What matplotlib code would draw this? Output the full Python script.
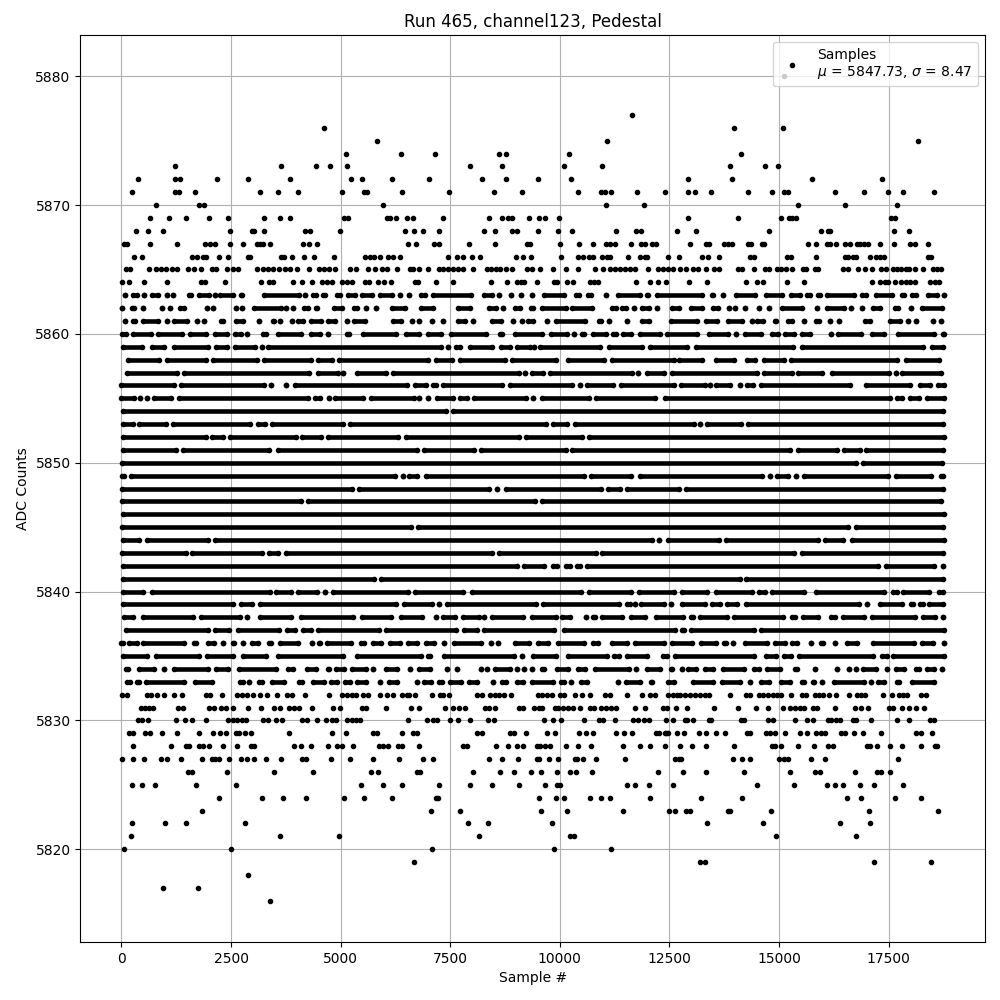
import numpy as np
import matplotlib
matplotlib.use("Agg")
import matplotlib.pyplot as plt


TITLE = "Run 465, channel123, Pedestal"
LEGEND_LABEL = "Samples\n$\\mu$ = 5847.73, $\\sigma$ = 8.47"

# Rows where single samples can be read: ADC level -> sample numbers
samples_5880 = [15112]
samples_5877 = [11649]
samples_5876 = [4630, 13972, 15089]
samples_5875 = [5838, 11079, 18167]
samples_5874 = [5131, 6382, 7158, 8617, 8776, 10213, 14131]
samples_5873 = [1233, 3649, 4447, 4767, 5154, 7956, 8685, 10099, 10965, 13881, 14679, 14975]
samples_5872 = [389, 1233, 1347, 2190, 2897, 3855, 5245, 5496, 6162, 7021, 8214, 8776, 9506, 10258, 12923, 13934, 15750, 17346]
samples_5871 = [252, 1233, 1324, 1689, 3171, 3581, 4037, 5040, 5542, 5595, 6405, 7477, 8503, 9141, 10418, 10950, 11026, 11178, 11763, 12402, 12923, 13083, 13447, 14291, 14838, 15112, 15203, 16275, 16936, 17483, 17825, 18532]
samples_5870 = [799, 1780, 1894, 5975, 11064, 11923, 15431, 16503, 17688]
samples_5869 = [663, 1096, 1483, 2008, 2441, 3262, 3627, 3855, 5086, 5177, 6066, 6124, 6261, 6504, 6656, 7340, 8389, 8685, 8822, 8898, 9301, 9529, 9666, 9985, 12923, 14063, 15043, 15226, 15302, 15378, 17559, 17635]
samples_5868 = [328, 617, 959, 2487, 2988, 3034, 3262, 4197, 4311, 4995, 6474, 6679, 6884, 7249, 8275, 8526, 8913, 9027, 9506, 9962, 10281, 11284, 11748, 11862, 12675, 13113, 14770, 15955, 16115, 16153, 17620, 17962]
samples_5867 = [62, 123, 663, 1278, 1917, 2031, 2145, 2487, 2783, 3087, 3163, 3239, 3391, 4151, 4288, 4470, 6527, 6724, 7127, 7249, 7933, 8518, 9240, 9316, 10008, 10441, 10760, 11064, 11140, 11262, 11626, 11862, 11938, 12113, 12204, 12969, 13341, 13402, 13744, 13835, 13926, 14291, 14367, 14610, 14656, 15659, 15841, 16100, 16161, 16297, 16503, 16609, 16776, 16837, 16936, 17027, 17293, 17620, 17992, 18099, 18395]
samples_5866 = [298, 480, 1620, 1734, 1871, 1932, 2236, 2441, 2897, 2943, 3649, 3718, 3885, 4174, 4402, 4858, 5565, 5671, 5770, 5907, 6089, 6203, 6352, 7454, 7659, 7796, 7986, 8176, 8997, 9164, 9346, 10030, 10418, 10532, 10669, 10760, 10973, 11079, 11155, 11558, 11839, 11938, 11991, 12470, 12718, 13242, 13379, 13630, 14329, 14420, 15180, 15279, 15841, 16495, 16571, 16685, 16761, 17065, 17217, 17293, 17392, 18395, 18471]
samples_5865 = [108, 199, 640, 792, 898, 1020, 1149, 1278, 1529, 1666, 1825, 2061, 2152, 2418, 2555, 2669, 3087, 3239, 3353, 3467, 3604, 3733, 3847, 3999, 4288, 4516, 4622, 4744, 4873, 5215, 5352, 5633, 5785, 5937, 6051, 6279, 6580, 6656, 6793, 6998, 7249, 7340, 7454, 7568, 7682, 7796, 8009, 8328, 8419, 8541, 8632, 8769, 8898, 9240, 9354, 9544, 9848, 10137, 10418, 10798, 10988, 11140, 11254, 11368, 11482, 11596, 11710, 12014, 12242, 12356, 12470, 12584, 12748, 12870, 13037, 13151, 13326, 13516, 13630, 14063, 14162, 14428, 14671, 14770, 14952, 15051, 15150, 15302, 15545, 15606, 15811, 15887, 16457, 16571, 16791, 16959, 17126, 17331, 17445, 17597, 17688, 17787, 17901, 17962, 18106, 18273, 18509, 18600, 18699]
samples_5864 = [24, 184, 526, 1050, 1825, 1917, 2373, 3193, 3368, 3467, 3923, 4113, 4341, 4569, 4683, 4797, 5025, 5139, 5268, 5557, 5656, 5861, 5998, 6150, 6694, 6770, 7165, 7568, 8419, 8799, 9012, 9103, 9179, 9483, 9863, 9939, 10167, 10304, 10684, 10775, 10874, 11740, 12060, 12242, 12424, 12946, 13356, 14253, 14496, 14633, 15180, 15568, 17118, 17293, 17407, 17483, 17635, 17787, 17886, 17992, 18106, 18448, 18547, 18646]

samples_5832 = [9, 138, 579, 670, 822, 974, 1210, 1377, 1932, 2023, 2297, 2631, 2745, 2859, 3011, 3163, 3315, 3558, 3786, 3885, 4197, 4744, 5025, 5139, 5253, 5344, 5519, 5633, 5907, 6066, 6203, 6390, 6504, 6565, 6694, 7089, 7264, 7340, 7477, 8100, 8214, 8404, 8518, 8617, 8723, 8890, 9506, 9582, 9711, 9810, 10000, 10099, 10357, 10517, 10692, 11026, 11140, 11535, 11877, 12067, 12166, 12470, 12584, 12683, 12733, 12847, 12961, 13075, 13189, 13303, 13402, 13881, 14238, 14344, 14534, 14633, 14747, 14861, 14952, 15051, 15271, 15530, 15621, 15811, 15910, 16001, 16138, 16297, 16594, 16776, 16875, 16966, 17369, 17574, 17734, 17825, 17916, 18228, 18357]
samples_5831 = [442, 541, 640, 731, 1301, 1415, 2008, 2114, 2266, 2388, 2555, 2897, 3193, 3490, 3627, 3832, 3938, 4060, 4356, 4835, 4995, 5481, 5580, 6043, 6610, 6793, 7386, 7568, 7705, 7826, 8298, 8389, 8510, 9073, 9164, 9407, 9529, 9590, 9886, 9962, 10076, 10190, 10304, 10456, 10699, 10775, 10950, 11064, 11178, 11277, 11718, 11946, 12356, 12447, 12645, 12900, 13516, 14063, 14473, 14747, 15089, 15256, 15355, 15469, 15560, 15773, 15864, 16275, 16731, 16867, 17027, 17506, 17597, 17802, 17954, 18114, 18304]
samples_5830 = [389, 465, 617, 1255, 1461, 1620, 1939, 2441, 2555, 2646, 2745, 2836, 3239, 3353, 3528, 3657, 4113, 4227, 4470, 4675, 4797, 4896, 5139, 5253, 5344, 5443, 6542, 6975, 7112, 7188, 7500, 7682, 7956, 8366, 8503, 9643, 9848, 10038, 10555, 10897, 10988, 11262, 11672, 11786, 11923, 12037, 12424, 12584, 12847, 12908, 13037, 13402, 13455, 14124, 14192, 14755, 14861, 15355, 15636, 15773, 16115, 16191, 16305, 16381, 16685, 16746, 17095, 17688, 17962, 18433, 18539]
samples_5829 = [184, 260, 541, 655, 936, 1278, 1780, 2099, 2259, 2395, 2616, 2692, 2821, 2950, 3832, 4812, 5131, 5747, 5838, 6390, 6656, 6747, 8115, 8222, 8860, 8951, 9225, 9711, 9894, 10441, 10608, 10760, 11292, 11467, 11649, 12189, 12265, 12432, 12675, 12391, 12467, 12832, 13174, 13333, 13561, 13759, 14268, 14344, 14694, 14800, 14907, 15135, 15477, 15636, 15834, 15955, 16047, 16419, 16495, 16708, 16913, 17323, 18129, 18235, 18479]
samples_5828 = [275, 1141, 1476, 1552, 1780, 1871, 2008, 2327, 2646, 2950, 3026, 3946, 4105, 4333, 4721, 4911, 5040, 5291, 5884, 5975, 6089, 6317, 6390, 6793, 7796, 7887, 8548, 8822, 9027, 9164, 9468, 9544, 9673, 9772, 10144, 10418, 10714, 11444, 11839, 12060, 12394, 12741, 13014, 13333, 13972, 14846, 14899, 15043, 15431, 15796, 16115, 16229, 17004, 17080, 17232, 17529, 17802, 18235, 18547, 18600]
samples_5827 = [17, 275, 526, 913, 1035, 1369, 1848, 2061, 2137, 2236, 2464, 2737, 2874, 3034, 3307, 3649, 4128, 4204, 4789, 5223, 5747, 6340, 6884, 7112, 8389, 8685, 9050, 9468, 9529, 9757, 9962, 10342, 10395, 10532, 10828, 11490, 12630, 12721, 12771, 13957, 14162, 14337, 14998, 15104, 15203, 15727, 16047, 17711]
samples_5826 = [1529, 1605, 2418, 3490, 4379, 5701, 5861, 6732, 6808, 8024, 8640, 8959, 9346, 9574, 9939, 10236, 10372, 10737, 12242, 12809, 13333, 14200, 15249, 15819, 15933, 16731, 17232, 17331, 17529]
samples_5825 = [252, 480, 777, 1711, 2623, 5473, 5975, 6390, 7249, 7956, 8457, 9073, 9666, 9939, 10015, 11535, 11718, 12037, 12584, 14496, 15340, 16092, 16275, 16457, 16845, 17164, 17825]
samples_5824 = [2236, 3216, 3695, 4219, 5086, 5542, 6180, 7173, 7226, 9529, 9916, 10099, 10692, 10942, 11148, 12060, 13219, 14154, 16548, 16867, 17643, 18235]
samples_5823 = [1833, 7066, 7728, 9574, 10167, 11444, 12493, 12630, 12885, 12976, 13835, 13873, 14815, 17050, 18623]
samples_5822 = [252, 1005, 1483, 2829, 7910, 8366, 9825, 13356, 14633, 16389, 17073]
samples_5821 = [229, 3627, 4972, 8161, 10243, 10334, 14929, 16753]
samples_5820 = [70, 2509, 7089, 9871, 11170]
samples_5819 = [6679, 13204, 13303, 17164, 18463]
samples_5818 = [2897]
samples_5817 = [959, 1757]
samples_5816 = [3399]

sample_levels = [5880, 5877, 5876, 5875, 5874, 5873, 5872, 5871, 5870, 5869, 5868, 5867, 5866, 5865, 5864,
                 5832, 5831, 5830, 5829, 5828, 5827, 5826, 5825, 5824, 5823, 5822, 5821, 5820, 5819, 5818, 5817, 5816]
sample_rows = [samples_5880, samples_5877, samples_5876, samples_5875, samples_5874, samples_5873, samples_5872,
               samples_5871, samples_5870, samples_5869, samples_5868, samples_5867, samples_5866, samples_5865,
               samples_5864, samples_5832, samples_5831, samples_5830, samples_5829, samples_5828, samples_5827,
               samples_5826, samples_5825, samples_5824, samples_5823, samples_5822, samples_5821, samples_5820,
               samples_5819, samples_5818, samples_5817, samples_5816]

# Dense rows: (first, last) sample of every unbroken stretch of dots
spans_5863 = [(85, 85), (259, 352), (526, 526), (692, 838), (1035, 1035), (1187, 1187), (1536, 1583), (1779, 2001), (2137, 2137), (2250, 2548), (2729, 2746), (3246, 4053), (4189, 4189), (4363, 4433), (4591, 4646), (4910, 4980), (5161, 5322), (5488, 5725), (5898, 6181), (6364, 6364), (6550, 6550), (6830, 6915), (7111, 7964), (8274, 8458), (8617, 8617), (8890, 8890), (9110, 9110), (9354, 9354), (9642, 10092), (10364, 10434), (10645, 10715), (11064, 11064), (11337, 11840), (11998, 12005), (12226, 13243), (13462, 13494), (13721, 13721), (14024, 14459), (14693, 15067), (15263, 15485), (15643, 15713), (15886, 15926), (16099, 16701), (16897, 16990), (17216, 17575), (17794, 17856), (18037, 18130), (18402, 18601), (18752, 18752)]
spans_5862 = [(24, 24), (236, 291), (488, 488), (936, 936), (1119, 1119), (1338, 1416), (1962, 1962), (2099, 2099), (2616, 2616), (2760, 2760), (3033, 3635), (3756, 3756), (3923, 3923), (4173, 4258), (4439, 4471), (4857, 5026), (5313, 5368), (5580, 5580), (5800, 5800), (6172, 6459), (6830, 7105), (7666, 7949), (8388, 8534), (8708, 8708), (8973, 9081), (9338, 9385), (9589, 10130), (10288, 10723), (11185, 11270), (11428, 11498), (11695, 11695), (11884, 12030), (12219, 12219), (12553, 12711), (12983, 13243), (13500, 13608), (13858, 13858), (13995, 13995), (14223, 14223), (14542, 14542), (14770, 14770), (15058, 15523), (15864, 15864), (16099, 16473), (16639, 16639), (16890, 16890), (17140, 17309), (17642, 17704), (17999, 18008), (18265, 18715)]
spans_5861 = [(90, 90), (274, 306), (502, 823), (1030, 1030), (1194, 1492), (1734, 1734), (1894, 1894), (2273, 2328), (2615, 2776), (3140, 3140), (3451, 3483), (3627, 3627), (3885, 3885), (4036, 4152), (4325, 4562), (4720, 4866), (5154, 5154), (5313, 5558), (6187, 6383), (6630, 6630), (6778, 6778), (7089, 7089), (7340, 7340), (7666, 7827), (8024, 8024), (8464, 8663), (8936, 8936), (9126, 9126), (9285, 9385), (9696, 9696), (9923, 10563), (10896, 10943), (11125, 11125), (11535, 11535), (11869, 12030), (12530, 13129), (13325, 13585), (13842, 14155), (14382, 14382), (14503, 14634), (14906, 14938), (15210, 15295), (15568, 15568), (15833, 15918), (16161, 16161), (16366, 16366), (16950, 17081), (17520, 17750), (17939, 17939), (18129, 18129), (18509, 18509), (18699, 18699)]
spans_5860 = [(16, 101), (259, 671), (829, 1393), (1566, 1925), (2136, 2419), (2592, 2723), (2859, 2859), (3223, 3293), (3565, 4091), (4325, 4532), (4721, 4721), (5146, 5193), (5503, 6257), (6488, 6786), (6982, 7280), (7514, 8306), (8631, 8686), (8973, 9598), (9794, 10153), (10327, 10327), (10501, 10548), (10759, 11042), (11223, 11270), (11451, 11612), (11823, 12296), (12454, 13129), (13401, 13828), (14025, 14025), (14214, 14588), (14830, 14968), (15134, 15333), (15514, 15713), (16175, 16175), (16342, 16868), (17125, 17400), (17718, 18525), (18736, 18753)]
spans_5859 = [(31, 458), (700, 975), (1194, 1978), (2159, 2419), (2592, 3050), (3201, 3201), (3337, 7280), (7454, 7454), (7643, 7721), (7947, 8458), (8654, 8861), (9034, 9317), (9415, 9415), (9543, 10913), (11124, 11878), (12059, 12901), (13112, 15318), (15514, 18282), (18478, 18738)]
spans_5858 = [(145, 861), (1034, 1925), (2083, 3103), (3261, 4319), (4477, 4813), (4971, 6991), (7172, 7546), (7719, 8739), (8905, 9902), (10197, 11004), (11200, 12597), (12718, 13243), (13568, 13980), (14275, 14459), (14655, 15105), (15263, 17689), (17885, 18639)]
spans_5857 = [(122, 1264), (1430, 4289), (4477, 4942), (5063, 5063), (5366, 6029), (6187, 9066), (9202, 9202), (9376, 9613), (9771, 11650), (11786, 11786), (11998, 12372), (12550, 14497), (14655, 15295), (15438, 15979), (16198, 17499), (17673, 17673), (17809, 18700)]
spans_5856 = [(0, 1203), (1361, 3255), (3406, 3406), (3756, 3756), (3960, 6505), (6693, 6938), (7096, 7166), (7339, 8686), (8859, 10282), (10471, 10471), (10630, 11217), (11390, 12597), (12755, 13319), (13417, 13417), (13553, 13874), (14101, 14101), (14275, 14406), (14579, 16625), (16988, 17993), (18204, 18449), (18630, 18753)]
spans_5855 = [(0, 276), (427, 427), (579, 579), (746, 1142), (1323, 4258), (4424, 4532), (4744, 4744), (4872, 5520), (5693, 6672), (6793, 6793), (6998, 6998), (7187, 7569), (7719, 7873), (8031, 9218), (9392, 9392), (9589, 10662), (10820, 12182), (12400, 17537), (17695, 17803), (17976, 18198), (18379, 18753)]
spans_5854 = [(30, 7394), (7552, 18738)]
spans_5853 = [(46, 253), (396, 1013), (1171, 2936), (3117, 3278), (3428, 5064), (5214, 9674), (9847, 10168), (10349, 13053), (13204, 13204), (13363, 14132), (14298, 18738)]
spans_5852 = [(46, 1925), (2068, 2328), (2478, 3977), (4120, 4562), (4713, 6307), (6488, 9066), (9224, 10510), (10668, 18753)]
spans_5851 = [(31, 1241), (1399, 3377), (3565, 6748), (6891, 8040), (8198, 10145), (10288, 15242), (15438, 16321), (16479, 16838), (16988, 18738)]
spans_5850 = [(8, 16754), (16912, 18715)]
spans_5849 = [(8, 63), (221, 6231), (6413, 6413), (6549, 6733), (6944, 10548), (10706, 11627), (11823, 14611), (14800, 14800), (14959, 15196), (15378, 15378), (15567, 17476), (17657, 18464), (18683, 18738)]
spans_5848 = [(16, 5269), (5427, 8382), (8571, 8571), (8783, 10943), (11109, 11369), (11542, 12711), (12869, 18738)]
spans_5847 = [(8, 4091), (4249, 9423), (9589, 18692)]
spans_5846 = [(31, 18753)]
spans_5845 = [(8, 6596), (6754, 16564), (16745, 18738)]
spans_5844 = [(31, 405), (586, 1978), (2136, 12106), (12265, 12265), (12474, 13623), (13781, 15888), (16038, 16458), (16669, 18753)]
spans_5843 = [(8, 1469), (1612, 3217), (3360, 3582), (3755, 8458), (8616, 10814), (10972, 15348), (15514, 18738)]
spans_5842 = [(31, 9028), (9186, 9636), (9855, 9925), (10136, 10229), (10402, 10457), (10630, 17248), (17444, 18525), (18729, 18729)]
spans_5841 = [(31, 5763), (5921, 14102), (14252, 18738)]
spans_5840 = [(46, 496), (700, 3384), (3527, 3878), (4036, 4471), (4645, 4645), (4819, 6535), (6701, 7797), (7993, 10487), (10668, 11612), (11808, 12600), (12778, 13357), (13568, 14383), (14541, 14687), (14845, 15561), (15833, 17400), (17596, 17689), (17839, 18411), (18645, 18738)]
spans_5839 = [(31, 2556), (2729, 2989), (3162, 6254), (6450, 7090), (7241, 7241), (7415, 9446), (9627, 11346), (11542, 11600), (11710, 11710), (11846, 12372), (12546, 12546), (12793, 13319), (13477, 13661), (13819, 14041), (14252, 16815), (16997, 16997), (17292, 17803), (17999, 18054), (18204, 18282), (18432, 18738)]
spans_5838 = [(69, 268), (487, 1636), (1817, 2708), (2859, 2859), (3162, 3878), (4097, 5292), (5488, 6158), (6374, 6862), (7173, 7173), (7324, 7599), (7780, 8154), (8275, 8275), (8464, 9157), (9376, 9902), (10060, 10229), (10593, 10593), (10759, 10791), (10972, 11422), (11618, 11954), (12203, 12810), (12983, 13038), (13188, 13813), (13971, 15090), (15301, 15371), (15544, 15888), (16175, 16283), (16464, 16944), (17110, 18107), (18280, 18563), (18737, 18737)]
spans_5837 = [(107, 1978), (2144, 2457), (2653, 3597), (3778, 3954), (4135, 4319), (4477, 5877), (6032, 7622), (7803, 8116), (8274, 9864), (10098, 12635), (12793, 12825), (12983, 14421), (14579, 18753)]
spans_5836 = [(0, 25), (183, 352), (502, 1416), (1650, 1712), (1969, 2115), (2312, 2312), (2539, 2571), (2768, 2768), (2972, 3118), (3360, 3407), (3618, 4038), (4350, 4350), (4500, 4532), (4682, 5231), (5465, 5535), (5731, 5915), (6123, 6353), (6534, 6748), (6944, 7128), (7363, 7363), (7575, 8207), (8420, 8420), (8594, 8594), (8973, 9294), (9513, 9727), (9961, 10548), (10759, 10867), (11185, 11521), (11709, 12372), (12553, 13015), (13211, 13570), (13751, 13798), (13941, 13941), (14214, 14725), (14898, 15143), (15301, 15409), (15727, 15727), (15955, 15994), (16275, 16275), (16540, 16777), (17140, 18069), (18265, 18502), (18760, 18760)]
spans_5835 = [(31, 580), (791, 1773), (1946, 2556), (2782, 3293), (3565, 5064), (5366, 6824), (6982, 7037), (7347, 8952), (9126, 9126), (9391, 9917), (10189, 11065), (11246, 11346), (11542, 11992), (12363, 12448), (12629, 14421), (14708, 14938), (15111, 15272), (15453, 17142), (17353, 17461), (17604, 18753)]
spans_5834 = [(107, 139), (411, 747), (982, 982), (1194, 1978), (2159, 2434), (2676, 3521), (3793, 3924), (4226, 4433), (4705, 4737), (4895, 5079), (5260, 5573), (5747, 5747), (6035, 6292), (6588, 6588), (6792, 7037), (7431, 7431), (7659, 7659), (8198, 8207), (8343, 8343), (8525, 8861), (9012, 9012), (9187, 9187), (9354, 9354), (9604, 9636), (9946, 10183), (10409, 10563), (10797, 11574), (11748, 11748), (11998, 12296), (12530, 12562), (12794, 12794), (12930, 13114), (13310, 13494), (13728, 14193), (14427, 14535), (14716, 15029), (15362, 15409), (15826, 15826), (16328, 16328), (16586, 16586), (16761, 16761), (16920, 17210), (17460, 17460), (17672, 17841), (18113, 18183), (18364, 18525), (18722, 18722)]
spans_5833 = [(122, 200), (350, 405), (563, 1416), (1673, 2077), (2706, 2769), (2912, 2912), (3132, 3217), (3428, 3711), (4044, 4129), (4378, 4623), (4781, 4927), (5100, 5216), (5366, 5581), (5907, 5907), (6096, 6292), (6747, 6747), (6906, 7052), (7233, 7318), (7499, 7751), (7932, 8116), (8480, 8480), (8677, 8762), (9034, 9165), (9376, 9849), (10037, 10092), (10258, 10258), (10493, 10624), (11330, 11330), (11504, 11840), (12074, 12106), (12477, 12615), (13036, 13486), (13705, 14102), (14344, 14344), (14594, 14763), (15035, 15242), (15529, 15561), (15772, 15804), (15978, 15978), (16251, 16944), (17095, 17095), (17262, 17385), (17680, 17727), (18022, 18540)]

span_levels = [5863, 5862, 5861, 5860, 5859, 5858, 5857, 5856, 5855, 5854, 5853, 5852, 5851, 5850, 5849, 5848,
               5847, 5846, 5845, 5844, 5843, 5842, 5841, 5840, 5839, 5838, 5837, 5836, 5835, 5834, 5833]
span_rows = [spans_5863, spans_5862, spans_5861, spans_5860, spans_5859, spans_5858, spans_5857, spans_5856,
             spans_5855, spans_5854, spans_5853, spans_5852, spans_5851, spans_5850, spans_5849, spans_5848,
             spans_5847, spans_5846, spans_5845, spans_5844, spans_5843, spans_5842, spans_5841, spans_5840,
             spans_5839, spans_5838, spans_5837, spans_5836, spans_5835, spans_5834, spans_5833]


def plot_sample_rows(ax):
    """
    Draw the rows where single samples can be read.
    """

    x_values = []
    y_values = []

    for level, row in zip(sample_levels, sample_rows):
        x_values.extend(row)
        y_values.extend([level] * len(row))

    ax.plot(x_values, y_values, "k.", label=LEGEND_LABEL)


def plot_span_rows(ax):
    """
    Draw the dense rows, a bit thinner than the dots so they read as beaded rows.
    """

    for level, row in zip(span_levels, span_rows):
        x_values = []

        for first, last in row:
            x_values.extend([first, last, np.nan])

        ax.plot(
            x_values,
            [level] * len(x_values),
            "k.-",
            linewidth=3.3,
            solid_capstyle="butt"
        )


def main():
    fig, ax = plt.subplots(figsize=(10, 10), dpi=100)

    plot_sample_rows(ax)
    plot_span_rows(ax)

    ax.set_xlabel("Sample #")
    ax.set_ylabel("ADC Counts")
    ax.set_title(TITLE)
    ax.grid(True)
    ax.legend(loc="upper right")

    fig.subplots_adjust(left=0.0803, right=0.985, top=0.965, bottom=0.058)

    fig.savefig("out.png", dpi=100)

    plt.close(fig)


if __name__ == "__main__":
    main()
